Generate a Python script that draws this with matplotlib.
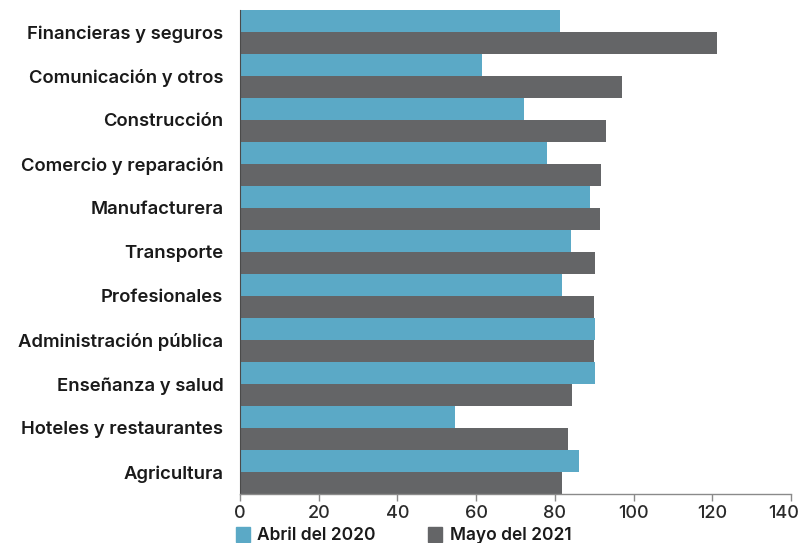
import numpy as np
import matplotlib.pyplot as plt
from matplotlib.patches import Rectangle
from matplotlib.transforms import ScaledTranslation

plt.rcParams['font.family'] = ['Inter', 'DejaVu Sans']

sectores = ['Financieras y seguros', 'Comunicación y otros', 'Construcción',
            'Comercio y reparación', 'Manufacturera', 'Transporte',
            'Profesionales', 'Administración pública', 'Enseñanza y salud',
            'Hoteles y restaurantes', 'Agricultura']
abril_2020 = [81.3, 61.4, 72.2, 78.1, 88.9, 84.0, 81.8, 90.3, 90.3, 54.6, 86.2]
mayo_2021 = [121.1, 97.0, 92.9, 91.8, 91.5, 90.3, 89.9, 89.9, 84.4, 83.3, 81.8]
ticks = [0, 20, 40, 60, 80, 100, 120, 140]

azul = '#5ba9c6'
gris = '#646567'

W, H = 799, 543
fig = plt.figure(figsize=(W / 100, H / 100), dpi=100)
ax = fig.add_axes([240 / W, 1 - 494 / H, (791 - 240) / W, (494 - 10) / H])

y = np.arange(len(sectores))
ax.barh(y - 0.25, abril_2020, height=0.48, color=azul, zorder=2)
ax.barh(y + 0.25, mayo_2021, height=0.48, color=gris, zorder=2)

ax.set_xlim(0, 140)
ax.set_ylim(len(sectores) - 0.5, -0.5)
ax.set_yticks(y)
ax.set_yticklabels(sectores, fontsize=13.3, fontweight='semibold', color='#1a1a1a')
ax.set_xticks(ticks)
ax.set_xticklabels([str(t) for t in ticks], fontsize=13, fontweight='medium',
                   color='#2a2a2a')

ax.tick_params(axis='y', length=0, pad=12)
ax.tick_params(axis='x', direction='out', length=5, width=1, color='#8a8a8a', pad=3)

# el último rótulo se corre hacia adentro para que no se corte
ultimo = ax.get_xticklabels()[-1]
ultimo.set_ha('right')
ultimo.set_transform(ultimo.get_transform() + ScaledTranslation(6 / 72, 0, fig.dpi_scale_trans))

for s in ['top', 'right']:
    ax.spines[s].set_visible(False)
ax.spines['bottom'].set_color('#8a8a8a')
ax.spines['bottom'].set_linewidth(1)
ax.spines['left'].set_color('#4a4a4a')
ax.spines['left'].set_linewidth(0.8)

# leyenda al pie
for x0, color, texto, xt in [(236, azul, 'Abril del 2020', 257),
                             (428, gris, 'Mayo del 2021', 450)]:
    fig.add_artist(Rectangle((x0 / W, 1 - 542 / H), 14 / W, 15 / H,
                             color=color, transform=fig.transFigure))
    fig.text(xt / W, 1 - 535 / H, texto, fontsize=12.5, fontweight='semibold',
             color='#1a1a1a', va='center', ha='left')

fig.savefig('out.png', dpi=100)
